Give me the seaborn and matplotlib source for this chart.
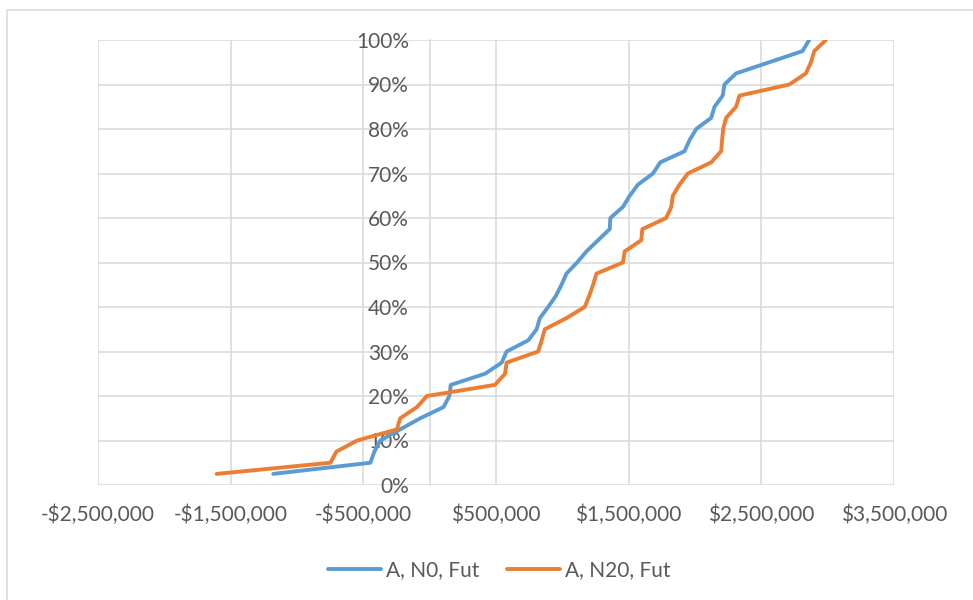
import numpy as np
import pandas as pd
import matplotlib
matplotlib.use("Agg")
import matplotlib.pyplot as plt
import seaborn as sns
from matplotlib.patches import Rectangle
from matplotlib.ticker import FuncFormatter, PercentFormatter

# cumulative probability levels (2.5% steps)
prob = [0.025 * k for k in range(1, 41)]

# A, N0, Fut  (values in $)
n0_values = [
    -1179000, -447000, -417000, -372000, -222000, -71000, 104000, 149000, 159000, 417000,
    543000, 580000, 743000, 806000, 831000, 893000, 951000, 994000, 1031000, 1111000,
    1182000, 1269000, 1357000, 1362000, 1457000, 1508000, 1570000, 1683000, 1738000, 1921000,
    1959000, 2009000, 2122000, 2147000, 2209000, 2222000, 2310000, 2560000, 2810000, 2861000,
]

# A, N20, Fut
n20_values = [
    -1605000, -748000, -703000, -547000, -247000, -222000, -96000, -21000, 492000, 568000,
    580000, 818000, 844000, 868000, 1031000, 1169000, 1202000, 1232000, 1257000, 1457000,
    1470000, 1595000, 1603000, 1783000, 1821000, 1833000, 1883000, 1946000, 2122000, 2197000,
    2204000, 2212000, 2234000, 2310000, 2335000, 2711000, 2836000, 2874000, 2899000, 2987000,
]

series_names = ["A, N0, Fut", "A, N20, Fut"]
colors = ["#5B9BD5", "#ED7D31"]
x_ticks = [-2500000, -1500000, -500000, 500000, 1500000, 2500000, 3500000]
y_ticks = [i / 10 for i in range(11)]

df = pd.concat([
    pd.DataFrame({"value": n0_values, "prob": prob, "Series": series_names[0]}),
    pd.DataFrame({"value": n20_values, "prob": prob, "Series": series_names[1]}),
])

sns.set_style("white")
plt.rcParams["font.family"] = ["Lato", "DejaVu Sans"]
text_color = "#595959"
grid_color = "#D9D9D9"

fig = plt.figure(figsize=(9.73, 6.0), dpi=100)
ax = fig.add_axes([98 / 973, 1 - 485 / 600, (894 - 98) / 973, (485 - 40) / 600])

sns.lineplot(data=df, x="value", y="prob", hue="Series", palette=colors,
             sort=False, estimator=None, linewidth=2.8, ax=ax, legend=False, zorder=3)

ax.set_xlim(x_ticks[0], x_ticks[-1])
ax.set_ylim(0, 1)
ax.set_xticks(x_ticks)
ax.set_yticks(y_ticks)
ax.xaxis.set_major_formatter(FuncFormatter(
    lambda v, p: ("-$" if v < 0 else "$") + f"{abs(int(v)):,}"))
ax.yaxis.set_major_formatter(PercentFormatter(1.0, decimals=0))

ax.grid(True, color=grid_color, linewidth=1.1)
ax.set_axisbelow(True)
for s in ["top", "right", "bottom"]:
    ax.spines[s].set_visible(False)
ax.spines["left"].set_position(("data", 0))
ax.spines["left"].set_color(grid_color)
ax.spines["left"].set_linewidth(1.1)
ax.spines["left"].set_zorder(1)

ax.tick_params(axis="both", length=0, labelsize=15, labelcolor=text_color)
ax.tick_params(axis="y", pad=15)
ax.tick_params(axis="x", pad=14)
ax.set_xlabel("")
ax.set_ylabel("")

# outer chart border (only top/left visible in the crop)
fig.patches.append(Rectangle((7 / 973, -0.2), 1.5, 1.2 - 10 / 600,
                             transform=fig.transFigure, fill=False,
                             edgecolor=grid_color, linewidth=1.1, clip_on=False))

handles = [plt.Line2D([], [], color=c, linewidth=2.8) for c in colors]
fig.legend(handles, series_names, loc="center", bbox_to_anchor=(0.513, 1 - 570 / 600),
           ncol=2, frameon=False, fontsize=15, labelcolor=text_color,
           handlelength=2.55, handletextpad=0.25, columnspacing=1.3)

fig.savefig("out.png", dpi=100)
